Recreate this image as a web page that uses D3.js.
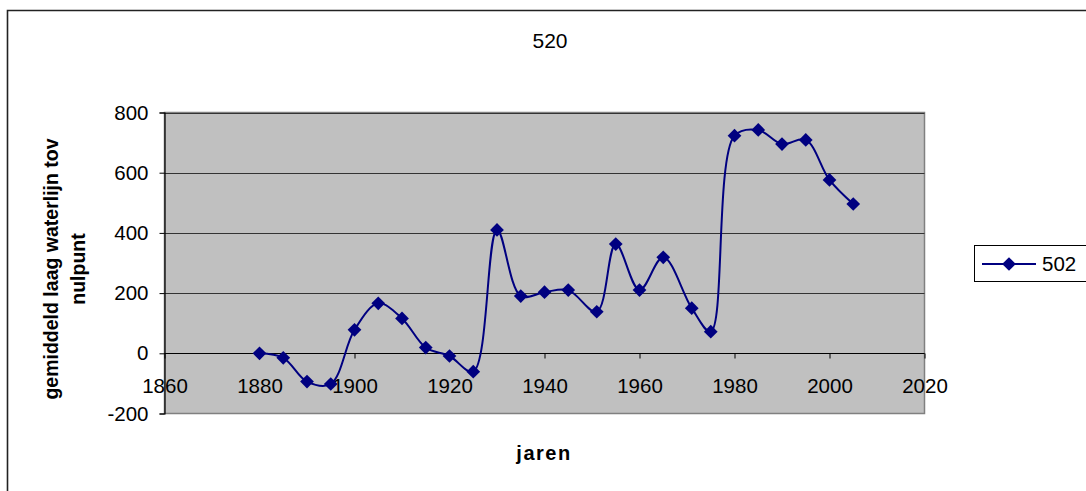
<!DOCTYPE html>
<html>
<head>
<meta charset="utf-8">
<script src="https://cdn.jsdelivr.net/npm/d3@7"></script>
<style>
  html, body { margin: 0; padding: 0; background: #fff; }
  svg { display: block; font-family: Arial, "Liberation Sans", sans-serif; }
</style>
</head>
<body>
<svg id="chart" width="1086" height="491"></svg>
<script>
// Jaren en gemiddeld laag waterlijn (serie "502")
const years = [1880, 1885, 1890, 1895, 1900, 1905, 1910, 1915, 1920, 1925, 1930, 1935, 1940,
               1945, 1951, 1955, 1960, 1965, 1971, 1975, 1980, 1985, 1990, 1995, 2000, 2005];
const values = [0, -15, -94, -102, 78, 166, 116, 19, -9, -61, 410, 190, 203,
                210, 138, 363, 210, 319, 150, 72, 723, 742, 695, 709, 576, 496];
const xTicks = [1860, 1880, 1900, 1920, 1940, 1960, 1980, 2000, 2020];
const yTicks = [-200, 0, 200, 400, 600, 800];
const chartTitle = "520";
const seriesName = "502";

const FONT = "Arial, 'Liberation Sans', sans-serif";
const svg = d3.select("#chart");
const plot = { left: 164.5, right: 924.5, top: 112.5, bottom: 413.5 };

const x = d3.scaleLinear().domain([1860, 2020]).range([plot.left, plot.right]);
const y = d3.scaleLinear().domain([-200, 800]).range([plot.bottom, plot.top]);

// outer chart frame (only left and top edges are within view)
svg.append("path")
  .attr("d", `M7.5,491 V10.5 H1086`)
  .attr("fill", "none").attr("stroke", "#222").attr("stroke-width", 1.6);

// plot area background
svg.append("rect")
  .attr("x", plot.left).attr("y", plot.top)
  .attr("width", plot.right - plot.left).attr("height", plot.bottom - plot.top)
  .attr("fill", "#c0c0c0").attr("stroke", "#808080").attr("stroke-width", 1.5);

// horizontal gridlines
svg.append("g").selectAll("line")
  .data(yTicks.filter(d => d > -200))
  .join("line")
  .attr("x1", plot.left).attr("x2", plot.right)
  .attr("y1", d => Math.round(y(d)) + 0.5).attr("y2", d => Math.round(y(d)) + 0.5)
  .attr("stroke", "#333").attr("stroke-width", 1.2);

// plain number labels with an ASCII hyphen for negatives
const plain = d => String(d);

// y axis
const yAxis = d3.axisLeft(y).tickValues(yTicks).tickSize(5).tickPadding(11).tickFormat(plain);
const gy = svg.append("g").attr("transform", `translate(${plot.left},0)`).call(yAxis);
gy.attr("font-size", null).attr("font-family", null);
gy.select(".domain").attr("stroke", "#000").attr("stroke-width", 1.2);
gy.selectAll(".tick line").attr("stroke", "#000");
gy.selectAll(".tick text").style("font-size", "20.5px").style("font-family", FONT).attr("fill", "#000");

// x axis crossing at value 0
const xAxis = d3.axisBottom(x).tickValues(xTicks).tickSize(5).tickPadding(20).tickFormat(plain);
const gx = svg.append("g").attr("transform", `translate(0,${Math.round(y(0)) + 0.5})`).call(xAxis);
gx.attr("font-size", null).attr("font-family", null);
gx.select(".domain").attr("stroke", "#000").attr("stroke-width", 1.2).attr("d", `M${plot.left},0H${plot.right}`);
gx.selectAll(".tick line").attr("stroke", "#000");
gx.selectAll(".tick text").style("font-size", "20.5px").style("font-family", FONT).attr("fill", "#000");

// smoothed series line
const pts = years.map((yr, i) => [yr, values[i]]);
const line = d3.line().x(d => x(d[0])).y(d => y(d[1])).curve(d3.curveCatmullRom.alpha(0.5));
svg.append("path")
  .datum(pts)
  .attr("d", line)
  .attr("fill", "none").attr("stroke", "#000080").attr("stroke-width", 2);

// diamond markers
const diamond = d3.symbol().type(d3.symbolDiamond2).size(120);
svg.append("g").selectAll("path")
  .data(pts)
  .join("path")
  .attr("transform", d => `translate(${x(d[0])},${y(d[1])})`)
  .attr("d", diamond)
  .attr("fill", "#000080");

// chart title
svg.append("text")
  .attr("x", 550).attr("y", 48)
  .attr("text-anchor", "middle").style("font-size", "21px").attr("fill", "#000")
  .text(chartTitle);

// x axis title
svg.append("text")
  .attr("x", 544).attr("y", 460)
  .attr("text-anchor", "middle").style("font-size", "20px").attr("font-weight", "bold")
  .attr("letter-spacing", 1.5).attr("fill", "#000")
  .text("jaren");

// y axis title (two lines)
const yTitle = svg.append("text")
  .attr("transform", "translate(0,269) rotate(-90)")
  .attr("text-anchor", "middle").style("font-size", "19.5px").attr("font-weight", "bold").attr("fill", "#000");
yTitle.append("tspan").attr("x", 0).attr("y", 58).text("gemiddeld laag waterlijn tov");
yTitle.append("tspan").attr("x", 0).attr("y", 85).text("nulpunt");

// legend
const lg = svg.append("g");
lg.append("rect")
  .attr("x", 974.5).attr("y", 245.5).attr("width", 112).attr("height", 36)
  .attr("fill", "#fff").attr("stroke", "#000").attr("stroke-width", 1);
lg.append("line")
  .attr("x1", 982).attr("x2", 1036).attr("y1", 264).attr("y2", 264)
  .attr("stroke", "#000080").attr("stroke-width", 2);
lg.append("path")
  .attr("transform", "translate(1009,264)")
  .attr("d", diamond).attr("fill", "#000080");
lg.append("text")
  .attr("x", 1042).attr("y", 271).style("font-size", "20.5px").attr("fill", "#000")
  .text(seriesName);
</script>
</body>
</html>
